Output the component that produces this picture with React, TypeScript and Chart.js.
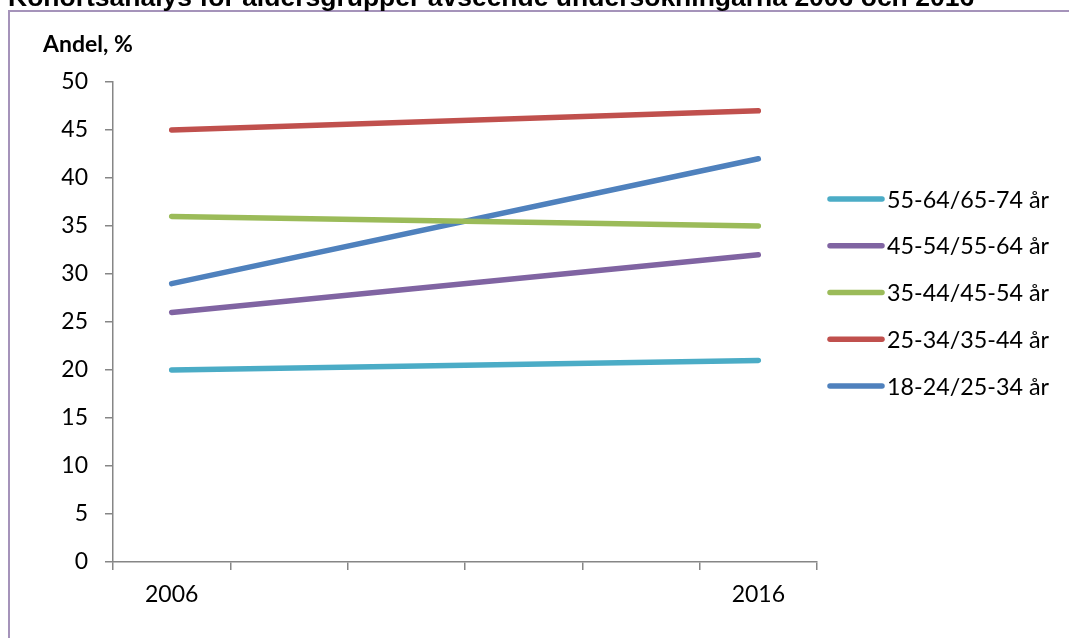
import React, { useEffect, useRef } from "react";
import { Chart, registerables } from "chart.js";

Chart.register(...registerables);

// Survey years on the category axis (intermediate slots left unlabelled)
const years = ["2006", "", "", "", "", "2016"];

// Share (%) per cohort, 2006 and 2016
const seriesNames = [
  "55-64/65-74 år",
  "45-54/55-64 år",
  "35-44/45-54 år",
  "25-34/35-44 år",
  "18-24/25-34 år",
];
const cohort55to64 = [20, null, null, null, null, 21];
const cohort45to54 = [26, null, null, null, null, 32];
const cohort35to44 = [36, null, null, null, null, 35];
const cohort25to34 = [45, null, null, null, null, 47];
const cohort18to24 = [29, null, null, null, null, 42];
const seriesValues = [cohort55to64, cohort45to54, cohort35to44, cohort25to34, cohort18to24];
const seriesColors = ["#4bacc6", "#8064a2", "#9bbb59", "#c0504d", "#4f81bd"];

const yAxisTitle = "Andel, %";
const chartTitle = "Kohortsanalys för åldersgrupper avseende undersökningarna 2006 och 2016";

const FONT = "Lato, 'Open Sans', sans-serif";

const decorations = {
  id: "decorations",
  afterDraw(chart: any) {
    const ctx = chart.ctx as CanvasRenderingContext2D;
    ctx.save();
    // heading, partially above the visible page
    ctx.fillStyle = "#000";
    ctx.textBaseline = "alphabetic";
    ctx.textAlign = "left";
    ctx.font = "bold 26.5px 'Liberation Sans', Arial, sans-serif";
    ctx.fillText(chartTitle, 8, 5.5);

    // y axis caption
    ctx.font = `bold 23px ${FONT}`;
    ctx.textBaseline = "middle";
    ctx.fillText(yAxisTitle, 43, 45);

    // legend on the right
    ctx.font = `23.3px ${FONT}`;
    chart.data.datasets.forEach((ds: any, i: number) => {
      const y = 199 + i * 46.75;
      ctx.strokeStyle = ds.borderColor;
      ctx.lineWidth = 5.5;
      ctx.lineCap = "round";
      ctx.beginPath();
      ctx.moveTo(830, y);
      ctx.lineTo(882, y);
      ctx.stroke();
      ctx.fillStyle = "#000";
      ctx.fillText(ds.label, 887, y + 1);
    });
    ctx.restore();
  },
};

export default function App() {
  const canvasRef = useRef<HTMLCanvasElement | null>(null);

  useEffect(() => {
    const canvas = canvasRef.current;
    if (!canvas) return;
    const chart = new Chart(canvas, {
      type: "line",
      data: {
        labels: years,
        datasets: seriesNames.map((name, i) => ({
          label: name,
          data: seriesValues[i],
          borderColor: seriesColors[i],
          backgroundColor: seriesColors[i],
          borderWidth: 5.5,
          borderCapStyle: "round" as const,
          pointRadius: 0,
          pointHoverRadius: 0,
          spanGaps: true,
          tension: 0,
        })),
      },
      options: {
        animation: false,
        responsive: false,
        maintainAspectRatio: false,
        events: [],
        layout: { padding: { left: 0, right: 252, top: 82, bottom: 0 } },
        plugins: {
          legend: { display: false },
          title: { display: false },
          tooltip: { enabled: false },
        },
        scales: {
          x: {
            type: "category",
            offset: true,
            afterFit: (scale: any) => {
              scale.height = 76;
            },
            border: { display: true, color: "#868686", width: 1.5 },
            grid: {
              offset: true,
              drawOnChartArea: false,
              drawTicks: true,
              tickLength: 8,
              color: "#868686",
              lineWidth: 1.5,
            },
            ticks: {
              autoSkip: false,
              maxRotation: 0,
              padding: 11,
              color: "#000",
              font: { family: FONT, size: 23 },
            },
          },
          y: {
            min: 0,
            max: 50,
            afterFit: (scale: any) => {
              scale.width = 113;
            },
            border: { display: true, color: "#868686", width: 1.5 },
            grid: {
              drawOnChartArea: false,
              drawTicks: true,
              tickLength: 8,
              color: "#868686",
              lineWidth: 1.5,
            },
            ticks: {
              stepSize: 5,
              padding: 17,
              color: "#000",
              font: { family: FONT, size: 23 },
            },
          },
        },
      },
      plugins: [decorations],
    });
    return () => chart.destroy();
  }, []);

  return (
    <div
      style={{
        position: "fixed",
        left: 0,
        top: 0,
        width: 1069,
        height: 638,
        background: "#fff",
        overflow: "hidden",
      }}
    >
      <div
        style={{
          position: "absolute",
          left: 8,
          top: 10,
          width: 1100,
          height: 700,
          border: "2px solid #a593ba",
          boxSizing: "border-box",
        }}
      />
      <canvas
        ref={canvasRef}
        width={1069}
        height={638}
        style={{ position: "absolute", left: 0, top: 0, width: 1069, height: 638 }}
      />
    </div>
  );
}
